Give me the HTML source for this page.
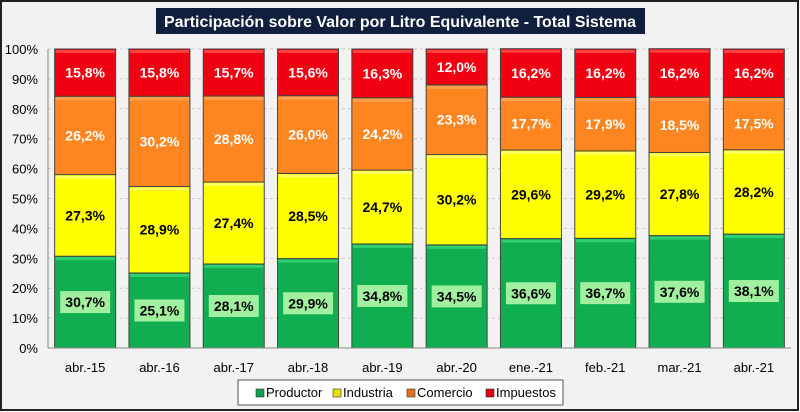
<!DOCTYPE html>
<html><head><meta charset="utf-8"><style>
body{margin:0;background:#fff;font-family:"Liberation Sans",sans-serif}
#wrap{position:relative;width:800px;height:412px;overflow:hidden}
</style></head><body>
<div id="wrap">
<svg id="svg" width="800" height="412" xmlns="http://www.w3.org/2000/svg">
<rect x="1" y="1" width="797" height="409" fill="#f2f2f2" stroke="#222" stroke-width="2"/>
<rect x="156" y="8" width="489" height="26" fill="#0f1f3d"/>
<text x="400" y="27" text-anchor="middle" fill="#fff" font-size="16" font-weight="bold" textLength="472" lengthAdjust="spacingAndGlyphs">Participación  sobre Valor por Litro Equivalente - Total Sistema</text>
<g id="grid"></g><g id="bars"></g><g id="axis"></g>
<g>
<rect x="238" y="380" width="325" height="25" fill="#fff" stroke="#555"/>
<rect x="256" y="389" width="8" height="8" fill="#10a050" stroke="#333" stroke-width="0.6"/>
<text x="266" y="397" font-size="13" fill="#000">Productor</text>
<rect x="333" y="389" width="8" height="8" fill="#e8e000" stroke="#333" stroke-width="0.6"/>
<text x="343" y="397" font-size="13" fill="#000">Industria</text>
<rect x="407" y="389" width="8" height="8" fill="#e07020" stroke="#333" stroke-width="0.6"/>
<text x="417" y="397" font-size="13" fill="#000">Comercio</text>
<rect x="486" y="389" width="8" height="8" fill="#e00010" stroke="#333" stroke-width="0.6"/>
<text x="496" y="397" font-size="13" fill="#000">Impuestos</text>
</g>
</svg>
</div>
<script>
const categories=["abr.-15","abr.-16","abr.-17","abr.-18","abr.-19","abr.-20","ene.-21","feb.-21","mar.-21","abr.-21"];
const productor=[30.7,25.1,28.1,29.9,34.8,34.5,36.6,36.7,37.6,38.1];
const industria=[27.3,28.9,27.4,28.5,24.7,30.2,29.6,29.2,27.8,28.2];
const comercio=[26.2,30.2,28.8,26.0,24.2,23.3,17.7,17.9,18.5,17.5];
const impuestos=[15.8,15.8,15.7,15.6,16.3,12.0,16.2,16.2,16.2,16.2];
const yTicks=[0,10,20,30,40,50,60,70,80,90,100];

const NS="http://www.w3.org/2000/svg";
const L=48,R=791,T=49,B=348;
const catW=(R-L)/categories.length, barW=61;
const y=v=>B-(v/100)*(B-T);
const x=i=>L+catW*i+catW/2;
function mk(tag,attrs,parent){const e=document.createElementNS(NS,tag);for(const k in attrs)e.setAttribute(k,attrs[k]);parent.appendChild(e);return e;}
const grid=document.getElementById('grid'),bars=document.getElementById('bars'),axis=document.getElementById('axis');
yTicks.forEach(t=>{
  const ln=mk('line',{x1:L,x2:R,y1:y(t),y2:y(t),stroke:'#c8c8c8','stroke-dasharray':'3,3'},grid);
  
  
  const tx=mk('text',{x:38,y:y(t)+5,'text-anchor':'end','font-size':'13',fill:'#000'},axis);
  tx.textContent=t+'%';
  
  
});
const ax=mk('line',{x1:L,x2:L,y1:T,y2:B,stroke:'#888'},axis);


const xa=mk('line',{x1:L,x2:R,y1:B,y2:B,stroke:'#888'},axis);


const series=[
 {name:'productor',vals:productor,fill:'#10ae50',top:'#30d070',txt:'#000',lab:'#a0f0a0'},
 {name:'industria',vals:industria,fill:'#ffff00',top:'#ffff60',txt:'#000',lab:null},
 {name:'comercio',vals:comercio,fill:'#ff8520',top:'#ffa050',txt:'#fff',lab:null},
 {name:'impuestos',vals:impuestos,fill:'#f00010',top:'#ff4040',txt:'#fff',lab:null}];
categories.forEach((c,i)=>{
  let acc=0;
  series.forEach(s=>{
    const v=s.vals[i];
    const y0=y(acc),y1=y(acc+v);acc+=v;
    const r=mk('rect',{x:x(i)-barW/2,y:y1,width:barW,height:y0-y1,fill:s.fill,stroke:'#444','stroke-width':'1'},bars);
    
    
    const hl=mk('rect',{x:x(i)-barW/2+1,y:y1+1,width:barW-2,height:3,fill:s.top},bars);
    
    
    const cy=(y0+y1)/2;
    if(s.lab){
      const lb=mk('rect',{x:x(i)-25,y:cy-11,width:50,height:22,fill:s.lab},bars);
      
      
    }
    const t=mk('text',{x:x(i),y:cy+5,'text-anchor':'middle','font-size':'14','font-weight':'bold',fill:s.txt},bars);
    t.textContent=v.toFixed(1).replace('.',',')+'%';
    
    
  });
  const xt=mk('text',{x:x(i),y:372,'text-anchor':'middle','font-size':'13',fill:'#000'},axis);
  xt.textContent=c;
  
  
});
</script>
</body></html>
